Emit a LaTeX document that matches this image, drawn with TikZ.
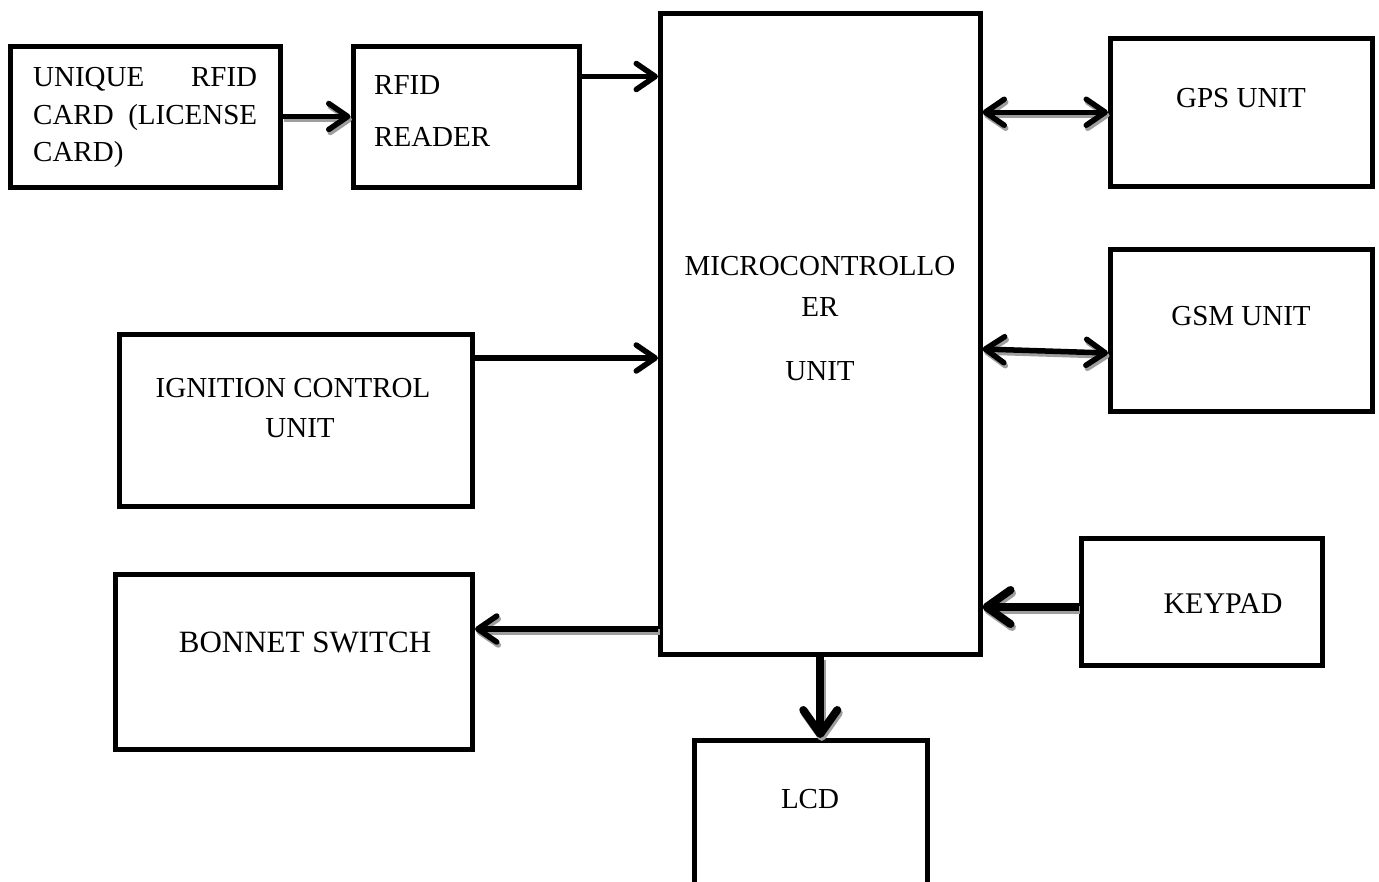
\documentclass[tikz,border=0pt]{standalone}
\usepackage{fontspec}
\setmainfont{Liberation Serif}
\usetikzlibrary{arrows.meta}
\tikzset{
  mytip/.tip={Straight Barb[length=19pt,width=26pt,round]},
  boldtip/.tip={Straight Barb[length=24pt,width=34pt,round]},
}
\begin{document}
\begin{tikzpicture}[x=1pt,y=-1pt,
  box/.style={draw, line width=5pt, rectangle, inner sep=0pt, outer sep=2.5pt},
  lbl/.style={inner sep=0pt, font=\fontsize{29}{38}\selectfont},
  conn/.style={line width=5.5pt, -mytip},
  conntwo/.style={line width=5.5pt, mytip-mytip},
  boldconn/.style={line width=8pt, -boldtip},
  shadowcol/.style={draw=black!38},
]
\useasboundingbox (0,0) rectangle (1379,881);
\clip (0,0) rectangle (1379,881);
\fill[white] (0,0) rectangle (1379,881);

% boxes
\node[box, minimum width=270pt, minimum height=141pt] (card) at (145,116.5) {};
\node[box, minimum width=226pt, minimum height=141pt] (reader) at (466,116.5) {};
\node[box, minimum width=319.5pt, minimum height=641pt] (mcu) at (820.25,333.5) {};
\node[box, minimum width=262pt, minimum height=147.5pt] (gps) at (1241.5,112.25) {};
\node[box, minimum width=262pt, minimum height=161.5pt] (gsm) at (1241.5,330.25) {};
\node[box, minimum width=353pt, minimum height=172pt] (ign) at (295.5,420.5) {};
\node[box, minimum width=357pt, minimum height=175pt] (bonnet) at (294,662) {};
\node[box, minimum width=241.5pt, minimum height=127pt] (keypad) at (1201.75,602) {};
\node[box, minimum width=233pt, minimum height=179.5pt] (lcd) at (811,830.25) {};

% texts
\node[lbl, anchor=base west] (t1) at (33,86) {\makebox[224pt][s]{UNIQUE\hfill RFID}};
\node[lbl, anchor=base west] (t2) at (33,124) {\makebox[224pt][s]{CARD\hfill (LICENSE}};
\node[lbl, anchor=base west] (t3) at (33,161) {CARD)};
\node[lbl, anchor=base west] (t4) at (374,94) {RFID};
\node[lbl, anchor=base west] (t5) at (374,146) {READER};
\node[lbl, anchor=base] (t6) at (820,275) {MICROCONTROLLO};
\node[lbl, anchor=base] (t7) at (820,316) {ER};
\node[lbl, anchor=base] (t8) at (820,380) {UNIT};
\node[lbl, anchor=base] (t9) at (293,397) {IGNITION CONTROL};
\node[lbl, anchor=base] (t10) at (300,437) {UNIT};
\node[lbl, anchor=base] (t11) at (1241,107) {GPS UNIT};
\node[lbl, anchor=base] (t12) at (1241,325) {GSM UNIT};
\node[lbl, anchor=base, font=\fontsize{31}{38}\selectfont] (t13) at (305,652) {BONNET SWITCH};
\node[lbl, anchor=base, font=\fontsize{30}{38}\selectfont] (t14) at (1223,613) {KEYPAD};
\node[lbl, anchor=base] (t15) at (810,808) {LCD};

% connector end points
\coordinate (r1) at ([yshift=40pt]reader.east);
\coordinate (m4) at ([yshift=-15.5pt]mcu.east);
\coordinate (s4) at ([yshift=-22.75pt]gsm.west);
\coordinate (i1) at ([yshift=62.5pt]ign.east);
\coordinate (b1) at ([yshift=33pt]bonnet.east);
\coordinate (k1) at ([yshift=-5pt]keypad.west);

% shadows
\begin{scope}[transform canvas={xshift=1.5pt, yshift=-3pt}]
\draw[conn, shadowcol] (card.east) -- (reader.west);
\draw[conntwo, shadowcol] (mcu.east |- gps.west) -- (gps.west);
\draw[conntwo, shadowcol] (m4) -- (s4);
\draw[conn, shadowcol] (b1 -| mcu.west) -- (b1);
\draw[boldconn, shadowcol] (k1) -- (k1 -| mcu.east);
\draw[boldconn, shadowcol] (mcu.south) -- (mcu.south |- lcd.north);
\end{scope}

% connectors
\draw[conn] (card.east) -- (reader.west);
\draw[conn] (r1) -- (r1 -| mcu.west);
\draw[conntwo] (mcu.east |- gps.west) -- (gps.west);
\draw[conntwo] (m4) -- (s4);
\draw[conn] (i1) -- (i1 -| mcu.west);
\draw[conn] (b1 -| mcu.west) -- (b1);
\draw[boldconn] (k1) -- (k1 -| mcu.east);
\draw[boldconn] (mcu.south) -- (mcu.south |- lcd.north);
\end{tikzpicture}
\end{document}
